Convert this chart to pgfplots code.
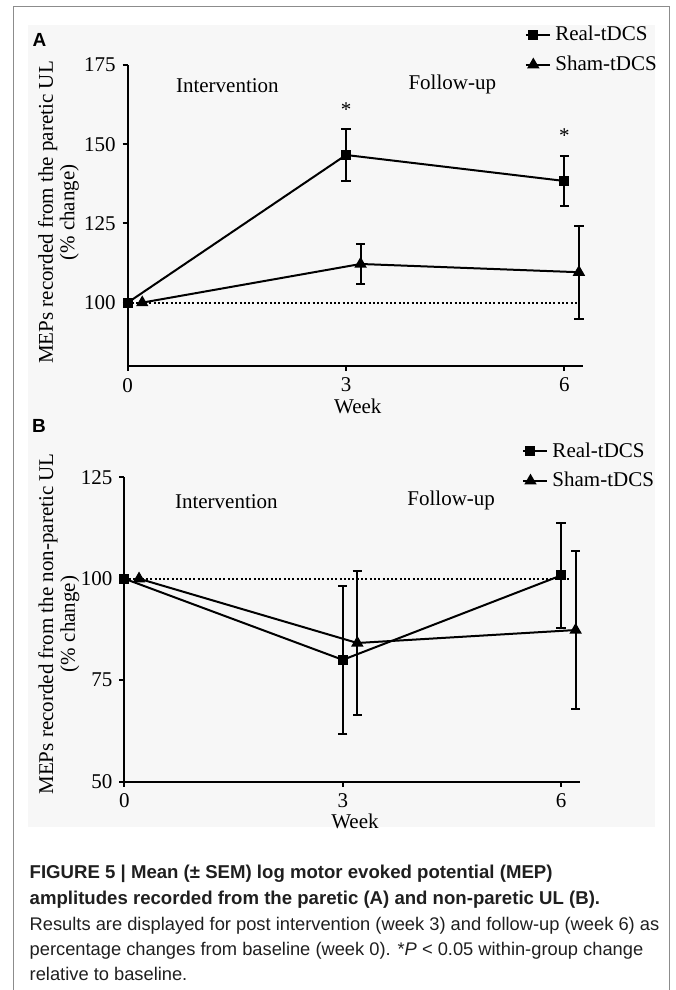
\documentclass[border=0pt]{standalone}
\usepackage{pgfplots}
\pgfplotsset{compat=1.18}
\usepackage{fontspec}
\setmainfont{Liberation Serif}
\newfontfamily\capsans{Liberation Sans}

\newcommand{\chartfont}{\fontsize{10.5}{10.8}\selectfont}

\pgfplotsset{
  mep/.style={
    scale only axis,
    anchor=south west,
    xmin=0, xmax=6.26,
    xtick={0,3,6},
    axis x line*=bottom,
    axis y line*=left,
    axis line style={-, line width=1pt},
    tick align=outside,
    major tick length=2.5pt,
    tick style={line width=1pt, black},
    tick label style={font=\chartfont},
    /pgf/number format/assume math mode=true,
    label style={font=\chartfont},
    xlabel={Week},
    ylabel style={align=center, anchor=center},
    legend style={draw=none, fill=none, font=\chartfont, inner sep=0pt,
      cells={anchor=west}, row sep=2pt, anchor=west},
    legend image code/.code={
      \draw[#1, mark=none] (-3.7pt,0pt) -- (3.7pt,0pt);
      \draw[#1] plot coordinates {(0pt,0pt)};
      \path (-3.7pt,0pt) -- (8.5pt,0pt);},
    clip=false,
  },
  base line/.style={black, line width=1pt, dash pattern=on 1pt off 1.15pt,
    forget plot, mark=none},
  real/.style={black, line width=1pt, mark=square*, mark size=2pt,
    error bars/.cd, y dir=both, y explicit,
    error bar style={line width=1pt},
    error mark options={rotate=90, line width=1pt, mark size=2.3pt}},
  sham/.style={black, line width=1pt, mark=triangle*, mark size=2.6pt,
    error bars/.cd, y dir=both, y explicit,
    error bar style={line width=1pt},
    error mark options={rotate=90, line width=1pt, mark size=2.3pt}},
}

\begin{document}
\begin{tikzpicture}
\useasboundingbox (0,0) rectangle (337.5pt,-495pt);
% figure frame and panel background
\fill[black!3] (14pt,-12.5pt) rectangle (327.5pt,-413.5pt);
\draw[black!45, line width=0.75pt] (6.65pt,-500pt) -- (6.65pt,-3.35pt) -- (334.65pt,-3.35pt) -- (334.65pt,-500pt);

\node[font=\capsans\bfseries\fontsize{9.5}{10}\selectfont] at (19.75pt,-20pt) {A};
\node[font=\capsans\bfseries\fontsize{9.5}{10}\selectfont] at (19.5pt,-213pt) {B};

% panel A: paretic UL
\begin{axis}[mep,
  at={(63.85pt,-183pt)},
  width=227.8pt, height=150.5pt,
  ymin=80, ymax=175,
  ytick={100,125,150,175},
  ylabel={MEPs recorded from the paretic UL\\(\% change)},
  ylabel style={at={(axis description cs:-0.152,0.51)}},
  xlabel style={at={(axis description cs:0.505,-0.133)}, anchor=center},
  legend style={at={(rel axis cs:0.871,1.05)}},
]
\addplot[base line] coordinates {(0,100) (6.17,100)};
\addplot[real] coordinates {
  (0,100) +- (0,0)
  (3,146.6) +- (0,8.3)
  (6,138.4) +- (0,8.0)
};
\addlegendentry{Real-tDCS}
\addplot[sham] coordinates {
  (0.2,100) +- (0,0)
  (3.2,112.2) +- (0,6.3)
  (6.2,109.6) +- (0,14.7)
};
\addlegendentry{Sham-tDCS}
\node[font=\chartfont] at (axis cs:1.37,168.4) {Intervention};
\node[font=\chartfont] at (axis cs:4.46,169.0) {Follow-up};
\node[font=\chartfont, anchor=base] at (axis cs:3,158.6) {*};
\node[font=\chartfont, anchor=base] at (axis cs:6,150.4) {*};
\end{axis}

% panel B: non-paretic UL
\begin{axis}[mep,
  at={(62.25pt,-390.75pt)},
  width=227.75pt, height=152.1pt,
  ymin=50, ymax=125,
  ytick={50,75,100,125},
  ylabel={MEPs recorded from the non-paretic UL\\(\% change)},
  ylabel style={at={(axis description cs:-0.144,0.518)}},
  xlabel style={at={(axis description cs:0.506,-0.130)}, anchor=center},
  legend style={at={(rel axis cs:0.872,1.037)}},
]
\addplot[base line] coordinates {(0,100) (6.14,100)};
\addplot[real] coordinates {
  (0,100) +- (0,0)
  (3,80.0) +- (0,18.2)
  (6,100.8) +- (0,13.0)
};
\addlegendentry{Real-tDCS}
\addplot[sham] coordinates {
  (0.2,100) +- (0,0)
  (3.2,84.15) +- (0,17.85)
  (6.2,87.35) +- (0,19.45)
};
\addlegendentry{Sham-tDCS}
\node[font=\chartfont] at (axis cs:1.40,119.0) {Intervention};
\node[font=\chartfont] at (axis cs:4.49,119.4) {Follow-up};
\end{axis}

% caption
\begin{scope}[every node/.style={anchor=base west, inner sep=0pt, text=black!88}]
\node[font=\capsans\bfseries\fontsize{9.3}{11}\selectfont] at (14.65pt,-439.4pt)
  {FIGURE 5 | Mean (± SEM) log motor evoked potential (MEP)};
\node[font=\capsans\bfseries\fontsize{9.3}{11}\selectfont] at (14.65pt,-452pt)
  {amplitudes recorded from the paretic (A) and non-paretic UL (B).};
\node[font=\capsans\fontsize{9.15}{11}\selectfont] at (14.65pt,-465pt)
  {Results are displayed for post intervention (week 3) and follow-up (week 6) as};
\node[font=\capsans\fontsize{9.15}{11}\selectfont] at (14.65pt,-477.5pt)
  {percentage changes from baseline (week 0). *\textit{P} < 0.05 within-group change};
\node[font=\capsans\fontsize{9.15}{11}\selectfont] at (14.65pt,-490pt)
  {relative to baseline.};
\end{scope}
\end{tikzpicture}
\end{document}
